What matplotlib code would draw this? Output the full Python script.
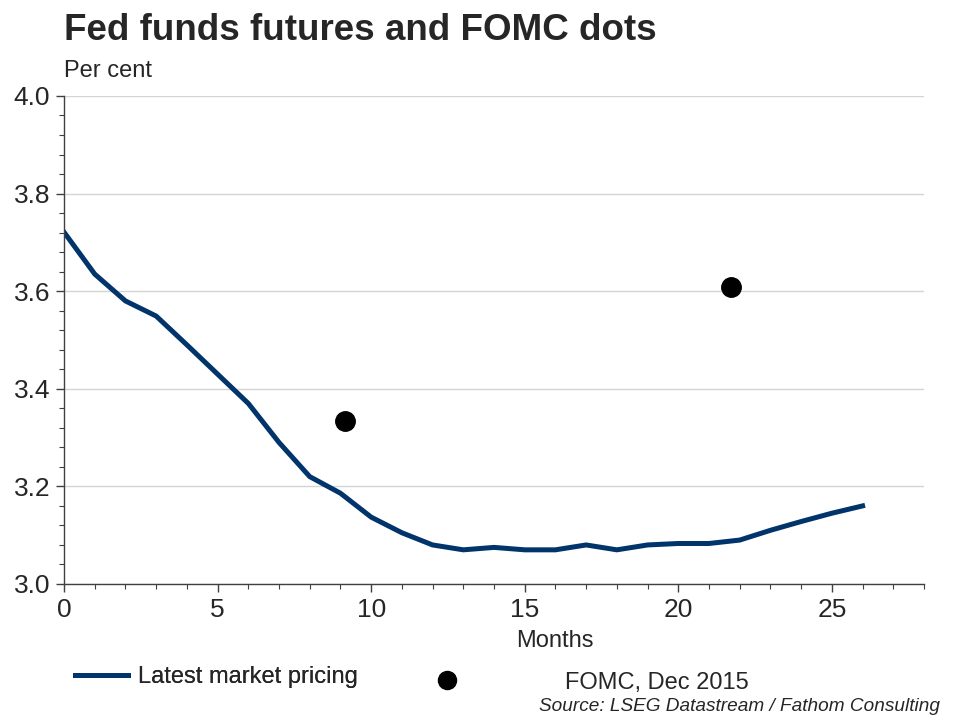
import numpy as np
import matplotlib.pyplot as plt
from matplotlib.ticker import MultipleLocator
from matplotlib.lines import Line2D

plt.rcParams['font.family'] = ['Liberation Sans', 'DejaVu Sans']

# Data
months = [0, 1, 2, 3, 4, 5, 6, 7, 8, 9, 10, 11, 12, 13, 14, 15, 16, 17, 18, 19,
          20, 21, 22, 23, 24, 25, 26]
market_pricing = [3.721, 3.635, 3.58, 3.549, 3.49, 3.43, 3.37, 3.29, 3.22, 3.186,
                  3.137, 3.105, 3.08, 3.07, 3.075, 3.07, 3.07, 3.08, 3.07, 3.08,
                  3.083, 3.083, 3.09, 3.11, 3.128, 3.145, 3.16]
fomc_months = [9.15, 21.73]
fomc_dots = [3.335, 3.609]

LINE_COLOR = '#00346b'
AXIS_COLOR = '#404040'
TEXT_COLOR = '#262626'

fig = plt.figure(figsize=(9.6, 7.2), dpi=100)
ax = fig.add_axes([0.0667, 0.1889, 0.8958, 0.6778])

ax.plot(months, market_pricing, color=LINE_COLOR, lw=3.6, solid_joinstyle='round')
ax.plot(fomc_months, fomc_dots, 'o', color='black', ms=14, ls='none')

ax.set_xlim(0, 28)
ax.set_ylim(3.0, 4.0)
ax.xaxis.set_major_locator(MultipleLocator(5))
ax.xaxis.set_minor_locator(MultipleLocator(1))
ax.yaxis.set_major_locator(MultipleLocator(0.2))
ax.yaxis.set_minor_locator(MultipleLocator(0.04))
ax.yaxis.set_major_formatter(plt.FormatStrFormatter('%.1f'))

ax.grid(axis='y', which='major', color='#d4d4d4', lw=1)
ax.set_axisbelow(True)
for s in ['top', 'right']:
    ax.spines[s].set_visible(False)
for s in ['left', 'bottom']:
    ax.spines[s].set_color(AXIS_COLOR)
    ax.spines[s].set_linewidth(1)

ax.tick_params(which='major', length=6, width=1, color=AXIS_COLOR,
               labelsize=19, labelcolor=TEXT_COLOR, pad=4)
ax.tick_params(which='minor', length=3.5, width=0.8, color=AXIS_COLOR)

ax.set_xlabel('Months', fontsize=17, color=TEXT_COLOR, labelpad=6, x=0.571)

fig.text(0.0667, 0.945, 'Fed funds futures and FOMC dots', fontsize=26.5,
         fontweight='bold', color=TEXT_COLOR, ha='left', va='baseline')
fig.text(0.0667, 0.893, 'Per cent', fontsize=17, color=TEXT_COLOR,
         ha='left', va='baseline')

# Legend
h1 = Line2D([], [], color=LINE_COLOR, lw=3.6)
h2 = Line2D([], [], marker='o', color='black', ms=13, ls='none')
leg1 = fig.legend([h1], ['Latest market pricing'], loc='center left',
                  bbox_to_anchor=(0.0555, 0.06), frameon=False, fontsize=17,
                  handlelength=2.25, handletextpad=0.42, labelcolor=TEXT_COLOR)
leg2 = fig.legend([h2], ['FOMC, Dec 2015'], loc='center left',
                  bbox_to_anchor=(0.4307, 0.052), frameon=False, fontsize=17,
                  handlelength=1.0, handletextpad=4.5, labelcolor=TEXT_COLOR)
fig.add_artist(leg1)

fig.text(0.979, 0.013, 'Source: LSEG Datastream / Fathom Consulting', fontsize=13.7,
         style='italic', color=TEXT_COLOR, ha='right', va='baseline')

fig.savefig('out.png', dpi=100, facecolor='white')
